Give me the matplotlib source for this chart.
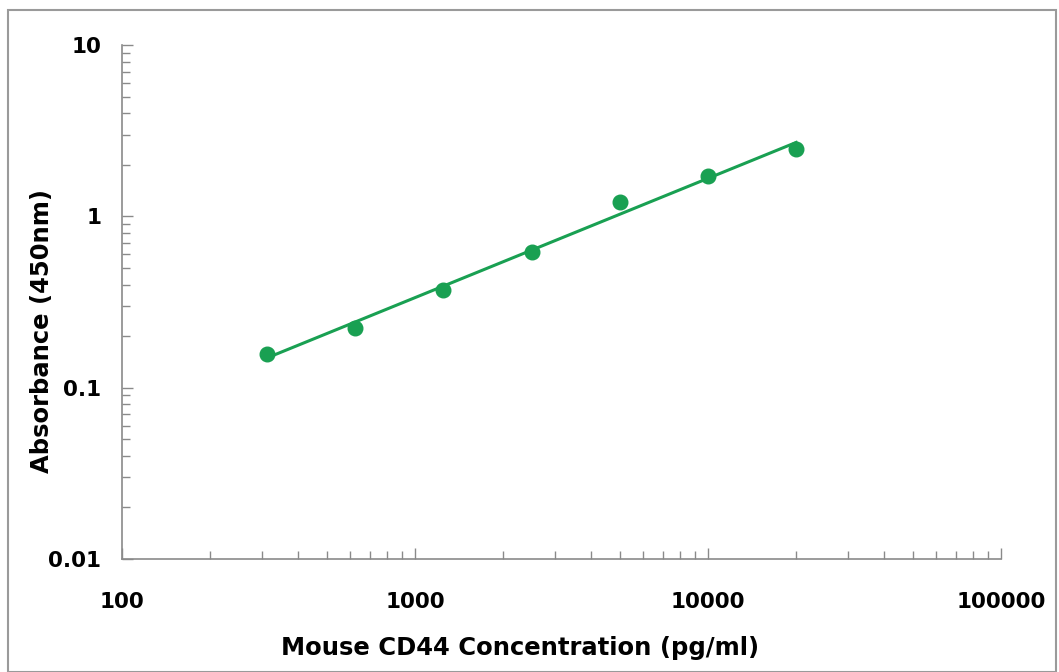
import matplotlib
matplotlib.use("Agg")
import matplotlib.pyplot as plt
import numpy as np
from matplotlib.patches import Rectangle
from matplotlib.ticker import LogLocator, FixedLocator, FixedFormatter, NullFormatter

conc = [312.5, 625, 1250, 2500, 5000, 10000, 20000]
od = [0.158, 0.223, 0.371, 0.618, 1.21, 1.71, 2.48]
xticks = [100, 1000, 10000, 100000]
xlabels = ["100", "1000", "10000", "100000"]
yticks = [0.01, 0.1, 1, 10]
ylabels = ["0.01", "0.1", "1", "10"]

green = "#19a052"
gray = "#8a8a8a"

fig = plt.figure(figsize=(10.59, 6.72), dpi=100)
ax = fig.add_axes([0.1152, 0.1682, 0.8300, 0.7648])

# power-law fit, straight line in log-log
k, c = np.polyfit(np.log10(conc), np.log10(od), 1)
xf = np.array([conc[0], conc[-1]])
ax.plot(xf, 10 ** (c + k * np.log10(xf)), color=green, lw=2.2, zorder=2)
ax.plot(conc, od, "o", color=green, ms=10.5, zorder=3)

ax.set_xscale("log")
ax.set_yscale("log")
ax.set_xlim(100, 100000)
ax.set_ylim(0.01, 10)

ax.xaxis.set_major_locator(FixedLocator(xticks))
ax.xaxis.set_major_formatter(FixedFormatter(xlabels))
ax.yaxis.set_major_locator(FixedLocator(yticks))
ax.yaxis.set_major_formatter(FixedFormatter(ylabels))
ax.xaxis.set_minor_locator(LogLocator(base=10, subs=np.arange(2, 10)))
ax.yaxis.set_minor_locator(LogLocator(base=10, subs=np.arange(2, 10)))
ax.xaxis.set_minor_formatter(NullFormatter())
ax.yaxis.set_minor_formatter(NullFormatter())

for s in ["top", "right"]:
    ax.spines[s].set_visible(False)
for s in ["left", "bottom"]:
    ax.spines[s].set_color(gray)
    ax.spines[s].set_linewidth(1.2)

ax.tick_params(which="both", direction="in", color=gray, width=1)
ax.tick_params(which="major", length=8)
ax.tick_params(which="minor", length=6)
ax.tick_params(axis="x", which="major", pad=24, labelsize=15.5)
ax.tick_params(axis="y", which="major", pad=15, labelsize=15.5)
for t in ax.get_xticklabels() + ax.get_yticklabels():
    t.set_fontweight("bold")

ax.set_xlabel("Mouse CD44 Concentration (pg/ml)", fontsize=17.5, fontweight="bold",
              va="center", ha="center")
ax.set_ylabel("Absorbance (450nm)", fontsize=17.5, fontweight="bold",
              va="center", ha="center")
ax.xaxis.set_label_coords(0.453, -0.173)
ax.yaxis.set_label_coords(-0.091, 0.443)

fig.patches.append(Rectangle((0.0076, 0.0), 0.99, 0.985, transform=fig.transFigure,
                             fill=False, edgecolor="#9a9a9a", lw=1.5))

fig.savefig("out.png", dpi=100)
